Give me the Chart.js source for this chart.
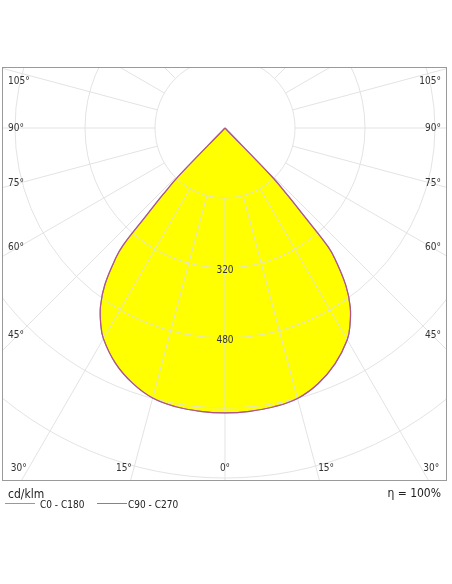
<!DOCTYPE html>
<html>
<head>
<meta charset="utf-8">
<script src="https://cdn.jsdelivr.net/npm/chart.js@4"></script>
<style>
  body { margin: 0; background: #fff; }
  #wrap { position: relative; width: 452px; height: 584px; }
  #polar { position: absolute; left: 0; top: 0; }
  .txt { position: absolute; font-family: "DejaVu Sans Condensed", "DejaVu Sans", sans-serif; color: #222; white-space: nowrap; }
  .big { font-size: 12px; line-height: 14px; }
  .small { font-size: 10px; line-height: 12px; }
  .key { position: absolute; height: 1px; width: 30px; }
</style>
</head>
<body>
<div id="wrap">
  <canvas id="polar" width="452" height="584"></canvas>
  <div class="txt big" style="left:8px; top:487px;">cd/klm</div>
  <div class="txt big" style="right:11px; top:486px;">η = 100%</div>
  <div class="key" style="left:5px; top:503px; background:#e87878;"></div>
  <div class="txt small" style="left:40px; top:499px;" id="lg0"></div>
  <div class="key" style="left:97px; top:503px; background:#7878e8;"></div>
  <div class="txt small" style="left:128px; top:499px;" id="lg1"></div>
</div>
<script>
/* =========================
   DATA (cd/klm vs gamma)
========================= */

const seriesNames = ["C0 - C180", "C90 - C270"];
const gammaAngles = [0, 5, 10, 15, 20, 25, 30, 32.5, 35, 37.5, 40, 41, 42, 43, 44, 45, 60, 90, 120, 150, 180];
const c0Values    = [651, 650, 647, 640, 622, 595, 559, 532, 499, 454, 392, 359, 268, 209, 155, 0, 0, 0, 0, 0, 0];
const c180Values  = [651, 650, 647, 639, 620, 593, 556, 529, 496, 451, 389, 356, 265, 207, 153, 0, 0, 0, 0, 0, 0];
const c90Values   = [651, 650, 647, 640, 622, 595, 559, 532, 499, 454, 392, 359, 268, 209, 155, 0, 0, 0, 0, 0, 0];
const c270Values  = [651, 650, 647, 639, 620, 593, 556, 529, 496, 451, 389, 356, 265, 207, 153, 0, 0, 0, 0, 0, 0];

const ringValues = [160, 320, 480, 640, 800, 960];
const ringLabels = [320, 480];
const gridAngles = [0, 15, 30, 45, 60, 75, 90, 105, 120, 135, 150, 165, 180];
const sideAngleLabels = [105, 90, 75, 60, 45];
const bottomAngleLabels = [30, 15, 0];

document.getElementById("lg0").textContent = seriesNames[0];
document.getElementById("lg1").textContent = seriesNames[1];

/* =========================
   POLAR -> XY
========================= */

function toXY(leftVals, rightVals) {
  const pts = [];
  // left half (C180 / C270), from top down to nadir
  for (let i = gammaAngles.length - 1; i >= 0; i--) {
    const g = gammaAngles[i] * Math.PI / 180;
    pts.push({ x: -leftVals[i] * Math.sin(g), y: -leftVals[i] * Math.cos(g) });
  }
  // right half (C0 / C90), from nadir back up
  for (let i = 1; i < gammaAngles.length; i++) {
    const g = gammaAngles[i] * Math.PI / 180;
    pts.push({ x: rightVals[i] * Math.sin(g), y: -rightVals[i] * Math.cos(g) });
  }
  return pts;
}

/* =========================
   GRID + LABELS PLUGIN
========================= */

const FONT = '10px "DejaVu Sans Condensed", "DejaVu Sans", sans-serif';

const polarGrid = {
  id: "polarGrid",

  beforeDatasetsDraw(chart) {
    const { ctx, chartArea: a, scales: { x, y } } = chart;
    const cx = x.getPixelForValue(0);
    const cy = y.getPixelForValue(0);
    const rpx = v => x.getPixelForValue(v) - cx;

    ctx.save();
    ctx.beginPath();
    ctx.rect(a.left, a.top, a.right - a.left, a.bottom - a.top);
    ctx.clip();
    ctx.strokeStyle = "rgba(224,224,224,0.9)";
    ctx.lineWidth = 1;

    ringValues.forEach(v => {
      ctx.beginPath();
      ctx.arc(cx, cy, rpx(v), 0, Math.PI * 2);
      ctx.stroke();
    });

    const r0 = rpx(ringValues[0]);
    const r1 = rpx(2000);
    gridAngles.forEach(deg => {
      const g = deg * Math.PI / 180;
      [1, -1].forEach(side => {
        if (side < 0 && (deg === 0 || deg === 180)) return;
        const dx = side * Math.sin(g), dy = Math.cos(g);
        ctx.beginPath();
        ctx.moveTo(cx + dx * r0, cy + dy * r0);
        ctx.lineTo(cx + dx * r1, cy + dy * r1);
        ctx.stroke();
      });
    });
    ctx.restore();
  },

  afterDatasetsDraw(chart) {
    const { ctx, chartArea: a, scales: { x, y } } = chart;
    const cx = x.getPixelForValue(0);
    const cy = y.getPixelForValue(0);

    ctx.save();
    ctx.font = FONT;
    ctx.fillStyle = "#333";
    ctx.textBaseline = "middle";

    // ring values on the nadir axis
    ctx.textAlign = "center";
    ringLabels.forEach(v => {
      ctx.fillText(String(v), cx, y.getPixelForValue(-v) + 2);
    });

    // side angle labels
    sideAngleLabels.forEach(deg => {
      const g = deg * Math.PI / 180;
      const t = (cx - (a.left + 16)) / Math.sin(g);
      let ly = cy + t * Math.cos(g);
      ly = Math.max(a.top + 14, Math.min(a.bottom - 13, ly));
      ctx.textAlign = "left";
      ctx.fillText(deg + "°", a.left + 6, ly);
      ctx.textAlign = "right";
      ctx.fillText(deg + "°", a.right - 6, ly);
    });

    // bottom angle labels
    const by = a.bottom - 13;
    ctx.textAlign = "center";
    bottomAngleLabels.forEach(deg => {
      if (deg === 0) {
        ctx.fillText("0°", cx, by);
        return;
      }
      const off = (by - cy) * Math.tan(deg * Math.PI / 180) + 10;
      ctx.fillText(deg + "°", cx - off, by);
      ctx.fillText(deg + "°", cx + off, by);
    });

    ctx.restore();
  },

  afterDraw(chart) {
    const { ctx, chartArea: a } = chart;
    ctx.save();
    ctx.strokeStyle = "#9a9a9a";
    ctx.lineWidth = 1;
    ctx.strokeRect(a.left + 0.5, a.top + 0.5, a.right - a.left - 1, a.bottom - a.top - 1);
    ctx.restore();
  }
};

/* =========================
   CHART
========================= */

// 70px per 160 cd/klm, centre of the diagram at (225,128)
const PX = 70 / 160;
const area = { left: 2, top: 67, right: 447, bottom: 481 };
const centre = { x: 225, y: 128 };

new Chart(document.getElementById("polar"), {
  type: "scatter",
  data: {
    datasets: [
      {
        label: seriesNames[0],
        data: toXY(c180Values, c0Values),
        showLine: true,
        borderColor: "rgba(224,80,80,0.6)",
        borderWidth: 1.2,
        backgroundColor: "#ffff00",
        fill: "shape",
        pointRadius: 0,
        tension: 0.4
      },
      {
        label: seriesNames[1],
        data: toXY(c270Values, c90Values),
        showLine: true,
        borderColor: "#6a5ae0",
        borderWidth: 1.2,
        fill: false,
        pointRadius: 0,
        tension: 0.4
      }
    ]
  },
  options: {
    responsive: false,
    animation: false,
    layout: {
      padding: { left: area.left, top: area.top, right: 452 - area.right, bottom: 584 - area.bottom }
    },
    plugins: {
      legend: { display: false },
      tooltip: { enabled: false },
      filler: { drawTime: "beforeDraw" }
    },
    scales: {
      x: {
        type: "linear",
        display: false,
        min: (area.left - centre.x) / PX,
        max: (area.right - centre.x) / PX
      },
      y: {
        type: "linear",
        display: false,
        min: -(area.bottom - centre.y) / PX,
        max: (centre.y - area.top) / PX
      }
    }
  },
  plugins: [polarGrid]
});
</script>
</body>
</html>
